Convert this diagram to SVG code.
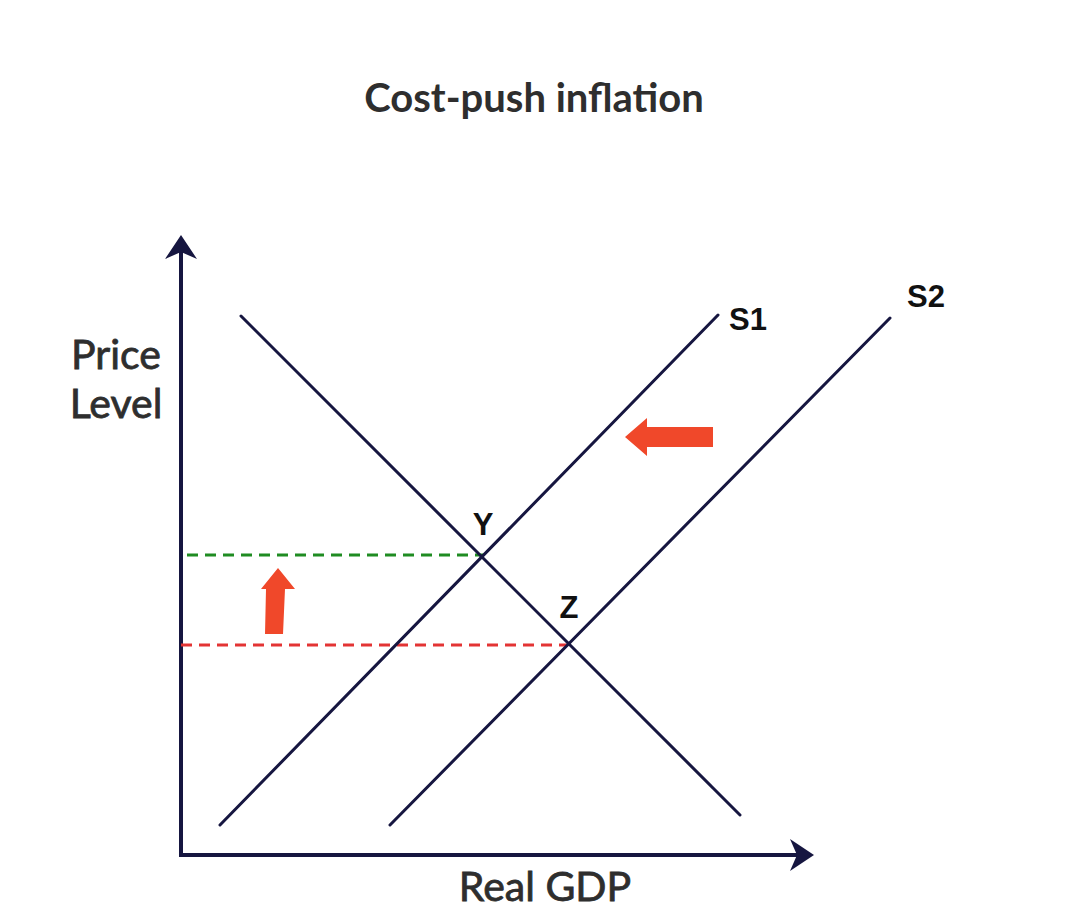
<svg xmlns="http://www.w3.org/2000/svg" width="1068" height="919" viewBox="0 0 1068 919">
<style>
.ln{stroke:#161640;stroke-width:3;fill:none;stroke-linecap:round}
.ax{stroke:#161640;stroke-width:4;fill:none}
.ttl{font-family:Lato,"Open Sans",sans-serif;font-weight:bold;fill:#2e2e2e;font-size:40px}
.lab{font-family:Lato,"Open Sans",sans-serif;fill:#2e2e2e;font-size:41px;stroke:#2e2e2e;stroke-width:0.8}
.pt{font-family:"Liberation Sans",Arial,sans-serif;font-weight:bold;fill:#111;font-size:31px}
.ra{fill:#f0482a}
</style>
<rect width="1068" height="919" fill="#fff"/>
<text class="ttl" x="534" y="112" text-anchor="middle">Cost-push inflation</text>
<g id="axes">
<line class="ax" x1="181" y1="250" x2="181" y2="855"/>
<line class="ax" x1="179" y1="855" x2="800" y2="855"/>
<path d="M181,235 L197,259 L181,252 L165,259 Z" fill="#161640"/>
<path d="M814,855 L790,839 L797,855 L790,871 Z" fill="#161640"/>
</g>
<g id="labels">
<text class="lab" x="116" y="369" text-anchor="middle">Price</text>
<text class="lab" x="116" y="418" text-anchor="middle">Level</text>
<text class="lab" x="545" y="901" text-anchor="middle">Real GDP</text>
</g>
<g id="connectors">
<line x1="187" y1="555" x2="483" y2="555" stroke="#1f8c22" stroke-width="3" stroke-dasharray="11,7"/>
<line x1="181" y1="645" x2="568" y2="645" stroke="#e33434" stroke-width="3" stroke-dasharray="11,7"/>
</g>
<g id="demand"><line class="ln" x1="241" y1="316" x2="740" y2="815"/></g>
<g id="S1"><line class="ln" x1="220" y1="825" x2="718" y2="315"/>
<text class="pt" x="729" y="330">S1</text></g>
<g id="S2"><line class="ln" x1="390" y1="825" x2="890" y2="318"/>
<text class="pt" x="907" y="307">S2</text></g>
<g id="Y"><text class="pt" x="483" y="535" text-anchor="middle">Y</text></g>
<g id="Z"><text class="pt" x="569" y="618" text-anchor="middle">Z</text></g>
<g id="shift-arrow"><path class="ra" d="M625,437 L647,418 L647,427 L713,427 L713,447 L647,447 L647,456 Z"/></g>
<g id="up-arrow"><path class="ra" d="M278,568 L295,589 L285,589 L283,634 L265,634 L266,589 L261,589 Z"/></g>
</svg>
